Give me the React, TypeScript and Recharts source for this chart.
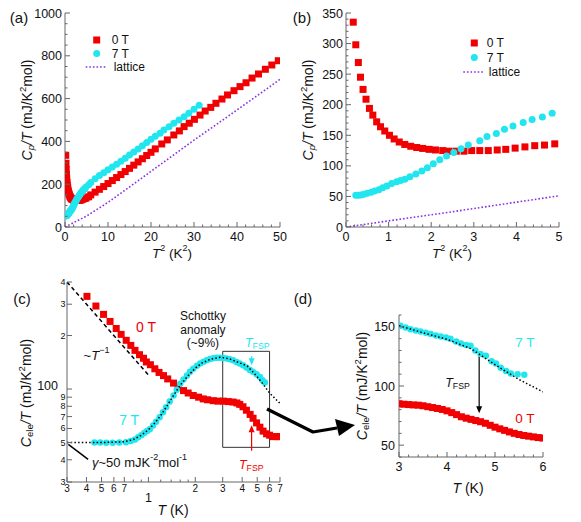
import React from "react"
import {
  ScatterChart,
  Scatter,
  XAxis,
  YAxis,
  Legend,
  ReferenceArea,
  ReferenceDot,
  ReferenceLine,
} from "recharts"

const RED = "#f00000"
const CYAN = "#22e6ef"
const PURPLE = "#8b2fe6"
const AX = "#666"
const INK = "#111"
const FONT = '"Liberation Sans", Arial, Helvetica, sans-serif'

// ---- (b) Cp/T vs T^2, low range (also the start of panel a) ----
const bT2_0T = [0.17, 0.23, 0.29, 0.34, 0.4, 0.47, 0.55, 0.63, 0.72, 0.81, 0.91, 1.02, 1.13, 1.25, 1.38, 1.52, 1.66, 1.8, 1.95, 2.1, 2.27, 2.42, 2.59, 2.77, 2.95, 3.14, 3.34, 3.55, 3.75, 3.97, 4.2, 4.43, 4.66, 4.9]
const bCp_0T = [335, 298, 269, 245, 225, 209, 194, 183, 172, 164, 157, 150, 144, 139, 135, 132, 130, 128.5, 127, 126, 125, 124, 124, 124, 125, 125, 125, 126, 127, 129, 131, 133, 134, 136]
const bT2_7T = [0.23, 0.29, 0.35, 0.42, 0.5, 0.59, 0.67, 0.77, 0.86, 0.96, 1.07, 1.19, 1.28, 1.38, 1.5, 1.64, 1.78, 1.91, 2.05, 2.2, 2.36, 2.53, 2.7, 2.87, 3.14, 3.31, 3.53, 3.72, 3.92, 4.16, 4.37, 4.61, 4.84]
const bCp_7T = [52, 52, 52.5, 53.5, 55, 57, 59, 61, 64, 67, 71, 74, 76, 78, 82, 86.5, 91.5, 97, 103.5, 110, 116, 122, 128, 134, 141, 148, 153, 160, 165, 171, 176, 180, 186]
const bT2_lat = [0, 2.5, 5]
const bCp_lat = [0, 25, 51]

// ---- (a) higher T^2 part ----
const aT2_0T = [5.5, 6, 7, 8, 9, 10, 11, 12, 13, 14, 15, 16, 17, 18, 19, 20, 21, 22.5, 23.8, 25.3, 26.6, 27.7, 28.9, 30.1, 31.4, 32.6, 33.9, 35.1, 36.5, 37.8, 39.3, 40.7, 42.1, 43.5, 45, 46.6, 48.1, 49.6]
const aCp_0T = [141, 150, 163, 176, 189, 203, 217, 231, 245, 259, 274, 289, 304, 319, 334, 349, 365, 388, 407, 430, 449, 469, 485, 503, 523, 542, 559, 578, 598, 617, 637, 656, 674, 696, 715, 737, 757, 777]
const aT2_7T = [5.5, 6, 7, 8, 9, 10, 11, 12, 13, 14, 15, 16, 17, 18, 19, 20, 21, 22.1, 23, 24.2, 25.3, 26.5, 27.7, 28.8, 30, 31.2]
const aCp_7T = [198, 208, 226, 241, 254, 267, 280, 293, 307, 321, 336, 350, 365, 380, 395, 410, 424, 438, 453, 469, 485, 500, 515, 531, 550, 569]
const aT2_lat = [0, 5, 10, 15, 20, 25, 30, 35, 40, 45, 50]
const aCp_lat = [0, 51, 115, 187, 260, 333, 406, 476, 547, 618, 690]

// ---- (c) Cele/T vs T, log-log ----
const cT_0T = [0.403, 0.46, 0.515, 0.567, 0.621, 0.668, 0.72, 0.771, 0.82, 0.877, 0.93, 0.97, 1.03, 1.1, 1.17, 1.25, 1.33, 1.45, 1.55, 1.68, 1.8, 1.94, 2.1, 2.25, 2.4, 2.61, 2.8, 3.03, 3.25, 3.5, 3.7, 3.86, 4.05, 4.26, 4.5, 4.7, 4.95, 5.2, 5.45, 5.74, 6.0, 6.34, 6.7, 7.0]
const cC_0T = [332, 293, 263, 240, 219, 203, 188, 176, 165, 156, 149, 142, 137, 130, 124, 119, 114, 108, 103, 98, 95, 92, 90, 88, 87, 86, 85.5, 85.5, 85, 84.5, 83.5, 82, 79.5, 76, 72, 68.5, 64.5, 61, 58, 56, 55, 54, 54, 54]
const cT_7T = [0.45, 0.49, 0.536, 0.589, 0.65, 0.717, 0.77, 0.82, 0.86, 0.9, 0.94, 0.98, 1.02, 1.07, 1.12, 1.18, 1.24, 1.3, 1.37, 1.45, 1.52, 1.6, 1.68, 1.77, 1.85, 1.94, 2.05, 2.15, 2.26, 2.37, 2.49, 2.61, 2.74, 2.87, 3.02, 3.17, 3.33, 3.5, 3.68, 3.86, 4.05, 4.26, 4.48, 4.7, 4.95, 5.2, 5.4, 5.6]
const cC_7T = [50, 50, 49.8, 49.8, 50, 50.2, 51, 52, 53.5, 55, 56.5, 58, 59.5, 62.4, 65.5, 69.4, 74, 79, 85, 92, 99, 107, 113, 119, 125, 130, 135, 139, 142.5, 145, 147.5, 149, 150, 150, 149.5, 148.5, 147, 145, 142, 139, 136, 132, 128, 125, 121, 117, 112, 109]
const cT_fit = [0.3, 0.5, 0.7, 0.8, 0.9, 1.0, 1.1, 1.2, 1.3, 1.45, 1.6, 1.8, 2.0, 2.2, 2.5, 2.9, 3.3, 3.8, 4.3, 4.8, 5.3, 6, 7]
const cC_fit = [50, 50, 50.5, 52, 55, 59, 64.5, 71, 79, 92, 105, 119, 131, 140, 147, 151, 148, 141, 135, 122, 110, 95, 83]
const cT_pow = [0.3, 1.0]
const cC_pow = [400, 120]

// ---- (d) zoom 3-6 K ----
const dT_0T = [3.0, 3.1, 3.2, 3.3, 3.4, 3.5, 3.6, 3.7, 3.8, 3.9, 4.0, 4.1, 4.2, 4.3, 4.4, 4.5, 4.6, 4.7, 4.8, 4.9, 5.0, 5.1, 5.2, 5.3, 5.4, 5.5, 5.6, 5.7, 5.8, 5.9, 6.0]
const dC_0T = [85, 84.6, 84.3, 84, 83.8, 83.3, 82.5, 81.8, 81, 80.2, 79, 77.5, 75.8, 74, 72.8, 71.8, 70.8, 69.8, 68.5, 66.8, 65.2, 63.8, 62.5, 61.2, 60, 59, 58.2, 57.6, 57, 56.4, 56]
const dT_7T = [3.03, 3.14, 3.24, 3.35, 3.45, 3.56, 3.66, 3.77, 3.87, 3.98, 4.07, 4.19, 4.29, 4.4, 4.49, 4.59, 4.7, 4.81, 4.93, 5.02, 5.12, 5.23, 5.33, 5.47, 5.61]
const dC_7T = [151, 149.4, 148, 147, 146, 145, 144, 142.6, 141.8, 141, 140, 137.6, 136, 134.7, 134, 130, 127, 125.6, 121, 119, 115.5, 112.7, 110.5, 110, 109.5]
const dT_fit = [3, 3.5, 4, 4.5, 5, 5.5, 6]
const dC_fit = [151, 145, 139.5, 131.5, 118, 105.5, 95]

// ---- tick labels ----
const aXLabels = [0, 10, 20, 30, 40, 50]
const aYLabels = [0, 200, 400, 600, 800, 1000]
const bXLabels = [0, 1, 2, 3, 4, 5]
const bYLabels = [0, 50, 100, 150, 200, 250, 300, 350]
const cXTicks = [0.3, 0.4, 0.5, 0.6, 0.7, 0.8, 0.9, 1, 1.2, 1.4, 1.6, 1.8, 2, 3, 4, 5, 6, 7]
const cXTickText = ["3", "4", "5", "6", "7", "", "", "1", "", "", "", "", "2", "3", "4", "5", "6", "7"]
const cYTicks = [30, 40, 50, 60, 70, 80, 90, 100, 200, 300, 400]
const cYTickText = ["3", "4", "5", "6", "7", "8", "9", "100", "2", "3", "4"]
const dXLabels = [3, 4, 5, 6]
const dYLabels = [50, 100, 150]

const pts = (xs: number[], ys: number[]) => xs.map((x, i) => ({ x, y: ys[i] }))
const steps = (a: number, b: number, s: number) => {
  const out: number[] = []
  for (let v = a; v <= b + 1e-9; v += s) out.push(Math.round(v * 1000) / 1000)
  return out
}
const has = (arr: number[], v: number) => arr.some((m) => Math.abs(m - v) < 1e-6)

type Side = "bottom" | "top" | "left" | "right"
type Lab = { t: string; size: number; dx: number; dy: number; anchor: "start" | "middle" | "end" } | null

function makeTick(side: Side, majors: number[], label?: (v: number) => Lab) {
  return (props: any) => {
    const { x, y, payload } = props
    const v = payload.value as number
    const len = has(majors, v) ? 5 : 2.5
    let x2 = x
    let y2 = y
    if (side === "bottom") y2 = y - len
    if (side === "top") y2 = y + len
    if (side === "left") x2 = x + len
    if (side === "right") x2 = x - len
    const lab = label ? label(v) : null
    return (
      <g>
        <line x1={x} y1={y} x2={x2} y2={y2} stroke={AX} strokeWidth={1} />
        {lab && lab.t !== "" && (
          <text x={x + lab.dx} y={y + lab.dy} textAnchor={lab.anchor} fontSize={lab.size} fill={INK}>
            {lab.t}
          </text>
        )}
      </g>
    )
  }
}

const bottomLab = (labels: number[], dy = 13.5) => (v: number): Lab =>
  has(labels, v) ? { t: String(v), size: 12.5, dx: 0, dy, anchor: "middle" } : null
const leftLab = (labels: number[], dx = -3) => (v: number): Lab =>
  has(labels, v) ? { t: String(v), size: 12.5, dx, dy: 4.5, anchor: "end" } : null

function frame(o: {
  xDomain: [number, number]
  yDomain: [number, number]
  xScale?: "log" | "linear"
  yScale?: "log" | "linear"
  xTicks: number[]
  yTicks: number[]
  xMajors: number[]
  yMajors: number[]
  xLabel: (v: number) => Lab
  yLabel: (v: number) => Lab
  yw: number
  xh: number
}) {
  const common = { type: "number" as const, allowDataOverflow: true, interval: 0 as const, tickSize: 0, tickMargin: 0, tickLine: false, axisLine: { stroke: AX } }
  return [
    <XAxis key="xb" xAxisId="b" dataKey="x" orientation="bottom" scale={o.xScale ?? "linear"} domain={o.xDomain} ticks={o.xTicks} height={o.xh} tick={makeTick("bottom", o.xMajors, o.xLabel)} {...common} />,
    <XAxis key="xt" xAxisId="t" dataKey="x" orientation="top" scale={o.xScale ?? "linear"} domain={o.xDomain} ticks={o.xTicks} height={0} tick={makeTick("top", o.xMajors)} {...common} />,
    <YAxis key="yl" yAxisId="l" dataKey="y" orientation="left" scale={o.yScale ?? "linear"} domain={o.yDomain} ticks={o.yTicks} width={o.yw} tick={makeTick("left", o.yMajors, o.yLabel)} {...common} />,
    <YAxis key="yr" yAxisId="r" dataKey="y" orientation="right" scale={o.yScale ?? "linear"} domain={o.yDomain} ticks={o.yTicks} width={0} tick={makeTick("right", o.yMajors)} {...common} />,
  ]
}

const square = (s: number, c: string) => (p: any) => <rect x={p.cx - s / 2} y={p.cy - s / 2} width={s} height={s} fill={c} />
const circle = (d: number, c: string) => (p: any) => <circle cx={p.cx} cy={p.cy} r={d / 2} fill={c} />
const none = () => <g />
const headDown = (c: string) => (p: any) => <polygon points={`${p.cx - 3},${p.cy - 7} ${p.cx + 3},${p.cy - 7} ${p.cx},${p.cy}`} fill={c} />
const headUp = (c: string) => (p: any) => <polygon points={`${p.cx - 3},${p.cy + 7} ${p.cx + 3},${p.cy + 7} ${p.cx},${p.cy}`} fill={c} />

const tfsp = (c: string, size = 12.5) => (p: any) => (
  <text x={p.cx} y={p.cy} textAnchor="middle" dominantBaseline="central" fontSize={size} fill={c}>
    <tspan fontStyle="italic">T</tspan>
    <tspan fontSize={size * 0.7} dy={3}>FSP</tspan>
  </text>
)
const plain = (t: string, c: string, size: number) => (p: any) => (
  <text x={p.cx} y={p.cy} textAnchor="middle" dominantBaseline="central" fontSize={size} fill={c}>
    {t}
  </text>
)

const legendContent = (ox: number, ys: number[], tdx: number) => () => (
  <svg width={110} height={50} style={{ overflow: "visible", display: "block" }}>
    <rect x={ox - 3.5} y={ys[0] - 3.5} width={7} height={7} fill={RED} />
    <circle cx={ox} cy={ys[1]} r={3.5} fill={CYAN} />
    <line x1={ox - 11} x2={ox + 10} y1={ys[2]} y2={ys[2]} stroke={PURPLE} strokeWidth={1.6} strokeDasharray="1.6 2" />
    <text x={ox + tdx} y={ys[0]} dominantBaseline="central" fontSize={12} fill={INK}>0 T</text>
    <text x={ox + tdx} y={ys[1]} dominantBaseline="central" fontSize={12} fill={INK}>7 T</text>
    <text x={ox + tdx + 2} y={ys[2]} dominantBaseline="central" fontSize={12} fill={INK}>lattice</text>
  </svg>
)

const ids = { xAxisId: "b", yAxisId: "l" }

function PanelA() {
  return (
    <ScatterChart width={290} height={260} margin={{ top: 13, right: 10, bottom: 3, left: 5 }}>
      {frame({
        xDomain: [0, 50], yDomain: [0, 1000],
        xTicks: steps(0, 50, 2), yTicks: steps(0, 1000, 50),
        xMajors: aXLabels, yMajors: aYLabels,
        xLabel: bottomLab(aXLabels), yLabel: leftLab(aYLabels),
        yw: 60, xh: 30,
      })}
      <Scatter {...ids} data={pts(aT2_lat, aCp_lat)} line={{ stroke: PURPLE, strokeWidth: 1.6, strokeDasharray: "1.6 2" }} shape={none} isAnimationActive={false} />
      <Scatter {...ids} data={[...pts(bT2_0T, bCp_0T), ...pts(aT2_0T, aCp_0T)]} shape={square(7, RED)} isAnimationActive={false} />
      <Scatter {...ids} data={[...pts(bT2_7T, bCp_7T), ...pts(aT2_7T, aCp_7T)]} shape={circle(7, CYAN)} isAnimationActive={false} />
      <Legend layout="vertical" align="center" verticalAlign="middle" wrapperStyle={{ left: 80, top: 30, width: 110, height: 50 }} content={legendContent(16.7, [10, 23.5, 37], 15)} />
    </ScatterChart>
  )
}

function PanelB() {
  return (
    <ScatterChart width={291} height={260} margin={{ top: 13, right: 22, bottom: 3, left: 6 }}>
      {frame({
        xDomain: [0, 5], yDomain: [0, 350],
        xTicks: steps(0, 5, 0.2), yTicks: steps(0, 350, 10),
        xMajors: bXLabels, yMajors: bYLabels,
        xLabel: bottomLab(bXLabels), yLabel: leftLab(bYLabels),
        yw: 50, xh: 30,
      })}
      <Scatter {...ids} data={pts(bT2_lat, bCp_lat)} line={{ stroke: PURPLE, strokeWidth: 1.6, strokeDasharray: "1.6 2" }} shape={none} isAnimationActive={false} />
      <Scatter {...ids} data={pts(bT2_0T, bCp_0T)} shape={square(7, RED)} isAnimationActive={false} />
      <Scatter {...ids} data={pts(bT2_7T, bCp_7T)} shape={circle(7, CYAN)} isAnimationActive={false} />
      <Legend layout="vertical" align="center" verticalAlign="middle" wrapperStyle={{ left: 165, top: 32, width: 110, height: 50 }} content={legendContent(19.3, [11, 25.5, 40], 12.5)} />
    </ScatterChart>
  )
}

const cXLab = (v: number): Lab => {
  const i = cXTicks.findIndex((t) => Math.abs(t - v) < 1e-6)
  if (i < 0 || cXTickText[i] === "") return null
  if (v === 1) return { t: "1", size: 12.5, dx: 0, dy: 20, anchor: "middle" }
  return { t: cXTickText[i], size: 10, dx: 0, dy: 10, anchor: "middle" }
}
const cYLab = (v: number): Lab => {
  const i = cYTicks.findIndex((t) => Math.abs(t - v) < 1e-6)
  if (i < 0) return null
  if (v === 100) return { t: "100", size: 12.5, dx: -9, dy: 1, anchor: "end" }
  return { t: cYTickText[i], size: 9, dx: -1.5, dy: 3, anchor: "end" }
}

function PanelC() {
  return (
    <ScatterChart width={300} height={262} margin={{ top: 22, right: 20, bottom: 4, left: 7 }}>
      {frame({
        xDomain: [0.3, 7], yDomain: [30, 400], xScale: "log", yScale: "log",
        xTicks: cXTicks, yTicks: cYTicks,
        xMajors: [0.3, 0.4, 0.5, 0.6, 0.7, 1, 2, 3, 4, 5, 6, 7], yMajors: cYTicks,
        xLabel: cXLab, yLabel: cYLab,
        yw: 60, xh: 36,
      })}
      <Scatter {...ids} data={pts(cT_pow, cC_pow)} line={{ stroke: "#000", strokeWidth: 1.5, strokeDasharray: "4 3" }} shape={none} isAnimationActive={false} />
      <Scatter {...ids} data={pts(cT_0T, cC_0T)} shape={square(7, RED)} isAnimationActive={false} />
      <Scatter {...ids} data={pts(cT_7T, cC_7T)} shape={circle(6.5, CYAN)} isAnimationActive={false} />
      <Scatter {...ids} data={pts(cT_fit, cC_fit)} line={{ stroke: "#000", strokeWidth: 1.5, strokeDasharray: "1.5 2.2" }} shape={none} isAnimationActive={false} />
      <ReferenceArea {...ids} x1={3} x2={6} y1={47} y2={163} fill="none" fillOpacity={0} stroke="#333" strokeWidth={1} />
      <ReferenceLine {...ids} segment={[{ x: 0.41, y: 40.2 }, { x: 0.306, y: 48.8 }]} stroke="#000" strokeWidth={1.5} />
      <ReferenceLine {...ids} segment={[{ x: 4.6, y: 153 }, { x: 4.6, y: 140 }]} stroke={CYAN} strokeWidth={1.2} />
      <ReferenceDot {...ids} x={4.6} y={136} r={0} shape={headDown(CYAN)} />
      <ReferenceLine {...ids} segment={[{ x: 4.6, y: 45 }, { x: 4.6, y: 58 }]} stroke={RED} strokeWidth={1.2} />
      <ReferenceDot {...ids} x={4.6} y={62.6} r={0} shape={headUp(RED)} />
      <ReferenceDot {...ids} x={5.0} y={181} r={0} shape={tfsp(CYAN)} />
      <ReferenceDot {...ids} x={4.58} y={37.3} r={0} shape={tfsp(RED)} />
      <ReferenceDot {...ids} x={0.965} y={223} r={0} shape={plain("0 T", RED, 14)} />
      <ReferenceDot {...ids} x={0.752} y={66.8} r={0} shape={plain("7 T", CYAN, 14)} />
      <ReferenceDot
        {...ids} x={0.464} y={155} r={0}
        shape={(p: any) => (
          <text x={p.cx} y={p.cy} textAnchor="middle" dominantBaseline="central" fontSize={13} fill={INK}>
            ~<tspan fontStyle="italic">T</tspan>
            <tspan fontSize={9} dy={-5}>−1</tspan>
          </text>
        )}
      />
      <ReferenceDot
        {...ids} x={2.24} y={214} r={0}
        shape={(p: any) => (
          <g fontSize={12} fill={INK}>
            <text x={p.cx} y={p.cy - 14} textAnchor="middle" dominantBaseline="central">Schottky</text>
            <text x={p.cx} y={p.cy} textAnchor="middle" dominantBaseline="central">anomaly</text>
            <text x={p.cx} y={p.cy + 13} textAnchor="middle" dominantBaseline="central">(~9%)</text>
          </g>
        )}
      />
      <ReferenceDot
        {...ids} x={0.434} y={38.8} r={0}
        shape={(p: any) => (
          <text x={p.cx} y={p.cy} textAnchor="start" dominantBaseline="central" fontSize={13} fill={INK}>
            <tspan fontStyle="italic">γ</tspan>~50 mJK
            <tspan fontSize={9} dy={-5}>-2</tspan>
            <tspan dy={5}>mol</tspan>
            <tspan fontSize={9} dy={-5}>-1</tspan>
          </text>
        )}
      />
    </ScatterChart>
  )
}

function PanelD() {
  return (
    <ScatterChart width={251} height={222} margin={{ top: 15, right: 38, bottom: 25, left: 9 }}>
      {frame({
        xDomain: [3, 6], yDomain: [40, 160],
        xTicks: steps(3, 6, 0.2), yTicks: steps(40, 160, 10),
        xMajors: dXLabels, yMajors: dYLabels,
        xLabel: bottomLab(dXLabels), yLabel: leftLab(dYLabels, -4),
        yw: 60, xh: 40,
      })}
      <Scatter {...ids} data={pts(dT_0T, dC_0T)} shape={square(7, RED)} isAnimationActive={false} />
      <Scatter {...ids} data={pts(dT_7T, dC_7T)} shape={circle(6.5, CYAN)} isAnimationActive={false} />
      <Scatter {...ids} data={pts(dT_fit, dC_fit)} line={{ stroke: "#000", strokeWidth: 1.5, strokeDasharray: "1.5 2.2" }} shape={none} isAnimationActive={false} />
      <ReferenceLine {...ids} segment={[{ x: 4.67, y: 125.3 }, { x: 4.67, y: 82 }]} stroke="#000" strokeWidth={1.2} />
      <ReferenceDot {...ids} x={4.67} y={76.9} r={0} shape={headDown("#000")} />
      <ReferenceDot {...ids} x={4.22} y={102.3} r={0} shape={tfsp(INK)} />
      <ReferenceDot {...ids} x={5.625} y={136.6} r={0} shape={plain("7 T", CYAN, 13.5)} />
      <ReferenceDot {...ids} x={5.625} y={72.7} r={0} shape={plain("0 T", RED, 13.5)} />
    </ScatterChart>
  )
}

function CpTitle({ x, y }: { x: number; y: number }) {
  return (
    <text transform={`translate(${x},${y}) rotate(-90)`} textAnchor="middle" dominantBaseline="central" fontSize={14} fill={INK}>
      <tspan fontStyle="italic">C</tspan>
      <tspan fontStyle="italic" fontSize={9.5} dy={3}>p</tspan>
      <tspan fontStyle="italic" dy={-3}>/T</tspan>
      <tspan> (mJ/K</tspan>
      <tspan fontSize={9.5} dy={-5}>2</tspan>
      <tspan dy={5}>mol)</tspan>
    </text>
  )
}

function CeleTitle({ x, y }: { x: number; y: number }) {
  return (
    <text transform={`translate(${x},${y}) rotate(-90)`} textAnchor="middle" dominantBaseline="central" fontSize={14} fill={INK}>
      <tspan fontStyle="italic">C</tspan>
      <tspan fontSize={9.5} dy={3}>ele</tspan>
      <tspan fontStyle="italic" dy={-3}>/T</tspan>
      <tspan> (mJ/K</tspan>
      <tspan fontSize={9.5} dy={-5}>2</tspan>
      <tspan dy={5}>mol)</tspan>
    </text>
  )
}

function T2Title({ x, y }: { x: number; y: number }) {
  return (
    <text x={x} y={y} textAnchor="middle" dominantBaseline="central" fontSize={13.5} fill={INK}>
      <tspan fontStyle="italic">T</tspan>
      <tspan fontSize={9} dy={-5}>2</tspan>
      <tspan dy={5}> (K</tspan>
      <tspan fontSize={9} dy={-5}>2</tspan>
      <tspan dy={5}>)</tspan>
    </text>
  )
}

function TTitle({ x, y }: { x: number; y: number }) {
  return (
    <text x={x} y={y} textAnchor="middle" dominantBaseline="central" fontSize={14} fill={INK}>
      <tspan fontStyle="italic">T</tspan> (K)
    </text>
  )
}

export default function App() {
  const box = (l: number, t: number): React.CSSProperties => ({ position: "absolute", left: l, top: t })
  return (
    <div style={{ position: "absolute", left: 0, top: 0, width: 581, height: 522, background: "#fff", fontFamily: FONT, overflow: "hidden" }}>
      <div style={box(0, 0)}><PanelA /></div>
      <div style={box(290, 0)}><PanelB /></div>
      <div style={box(0, 260)}><PanelC /></div>
      <div style={box(330, 300)}><PanelD /></div>
      <svg width={581} height={522} style={{ position: "absolute", left: 0, top: 0, pointerEvents: "none" }}>
        <g fontSize={15} fill={INK}>
          <text x={19} y={17} textAnchor="middle" dominantBaseline="central">(a)</text>
          <text x={302} y={17} textAnchor="middle" dominantBaseline="central">(b)</text>
          <text x={22} y={298} textAnchor="middle" dominantBaseline="central">(c)</text>
          <text x={303} y={298} textAnchor="middle" dominantBaseline="central">(d)</text>
        </g>
        <CpTitle x={27} y={110} />
        <CpTitle x={308} y={110} />
        <T2Title x={172} y={253} />
        <T2Title x={452} y={253} />
        <CeleTitle x={26} y={393} />
        <TTitle x={173} y={510} />
        <CeleTitle x={362} y={386} />
        <TTitle x={468} y={488} />
        <path d="M267,409 L313,432 L337,428" stroke="#000" strokeWidth={3.2} fill="none" strokeLinejoin="round" />
        <polygon points="335,419 355,425 339,436" fill="#000" />
      </svg>
    </div>
  )
}
